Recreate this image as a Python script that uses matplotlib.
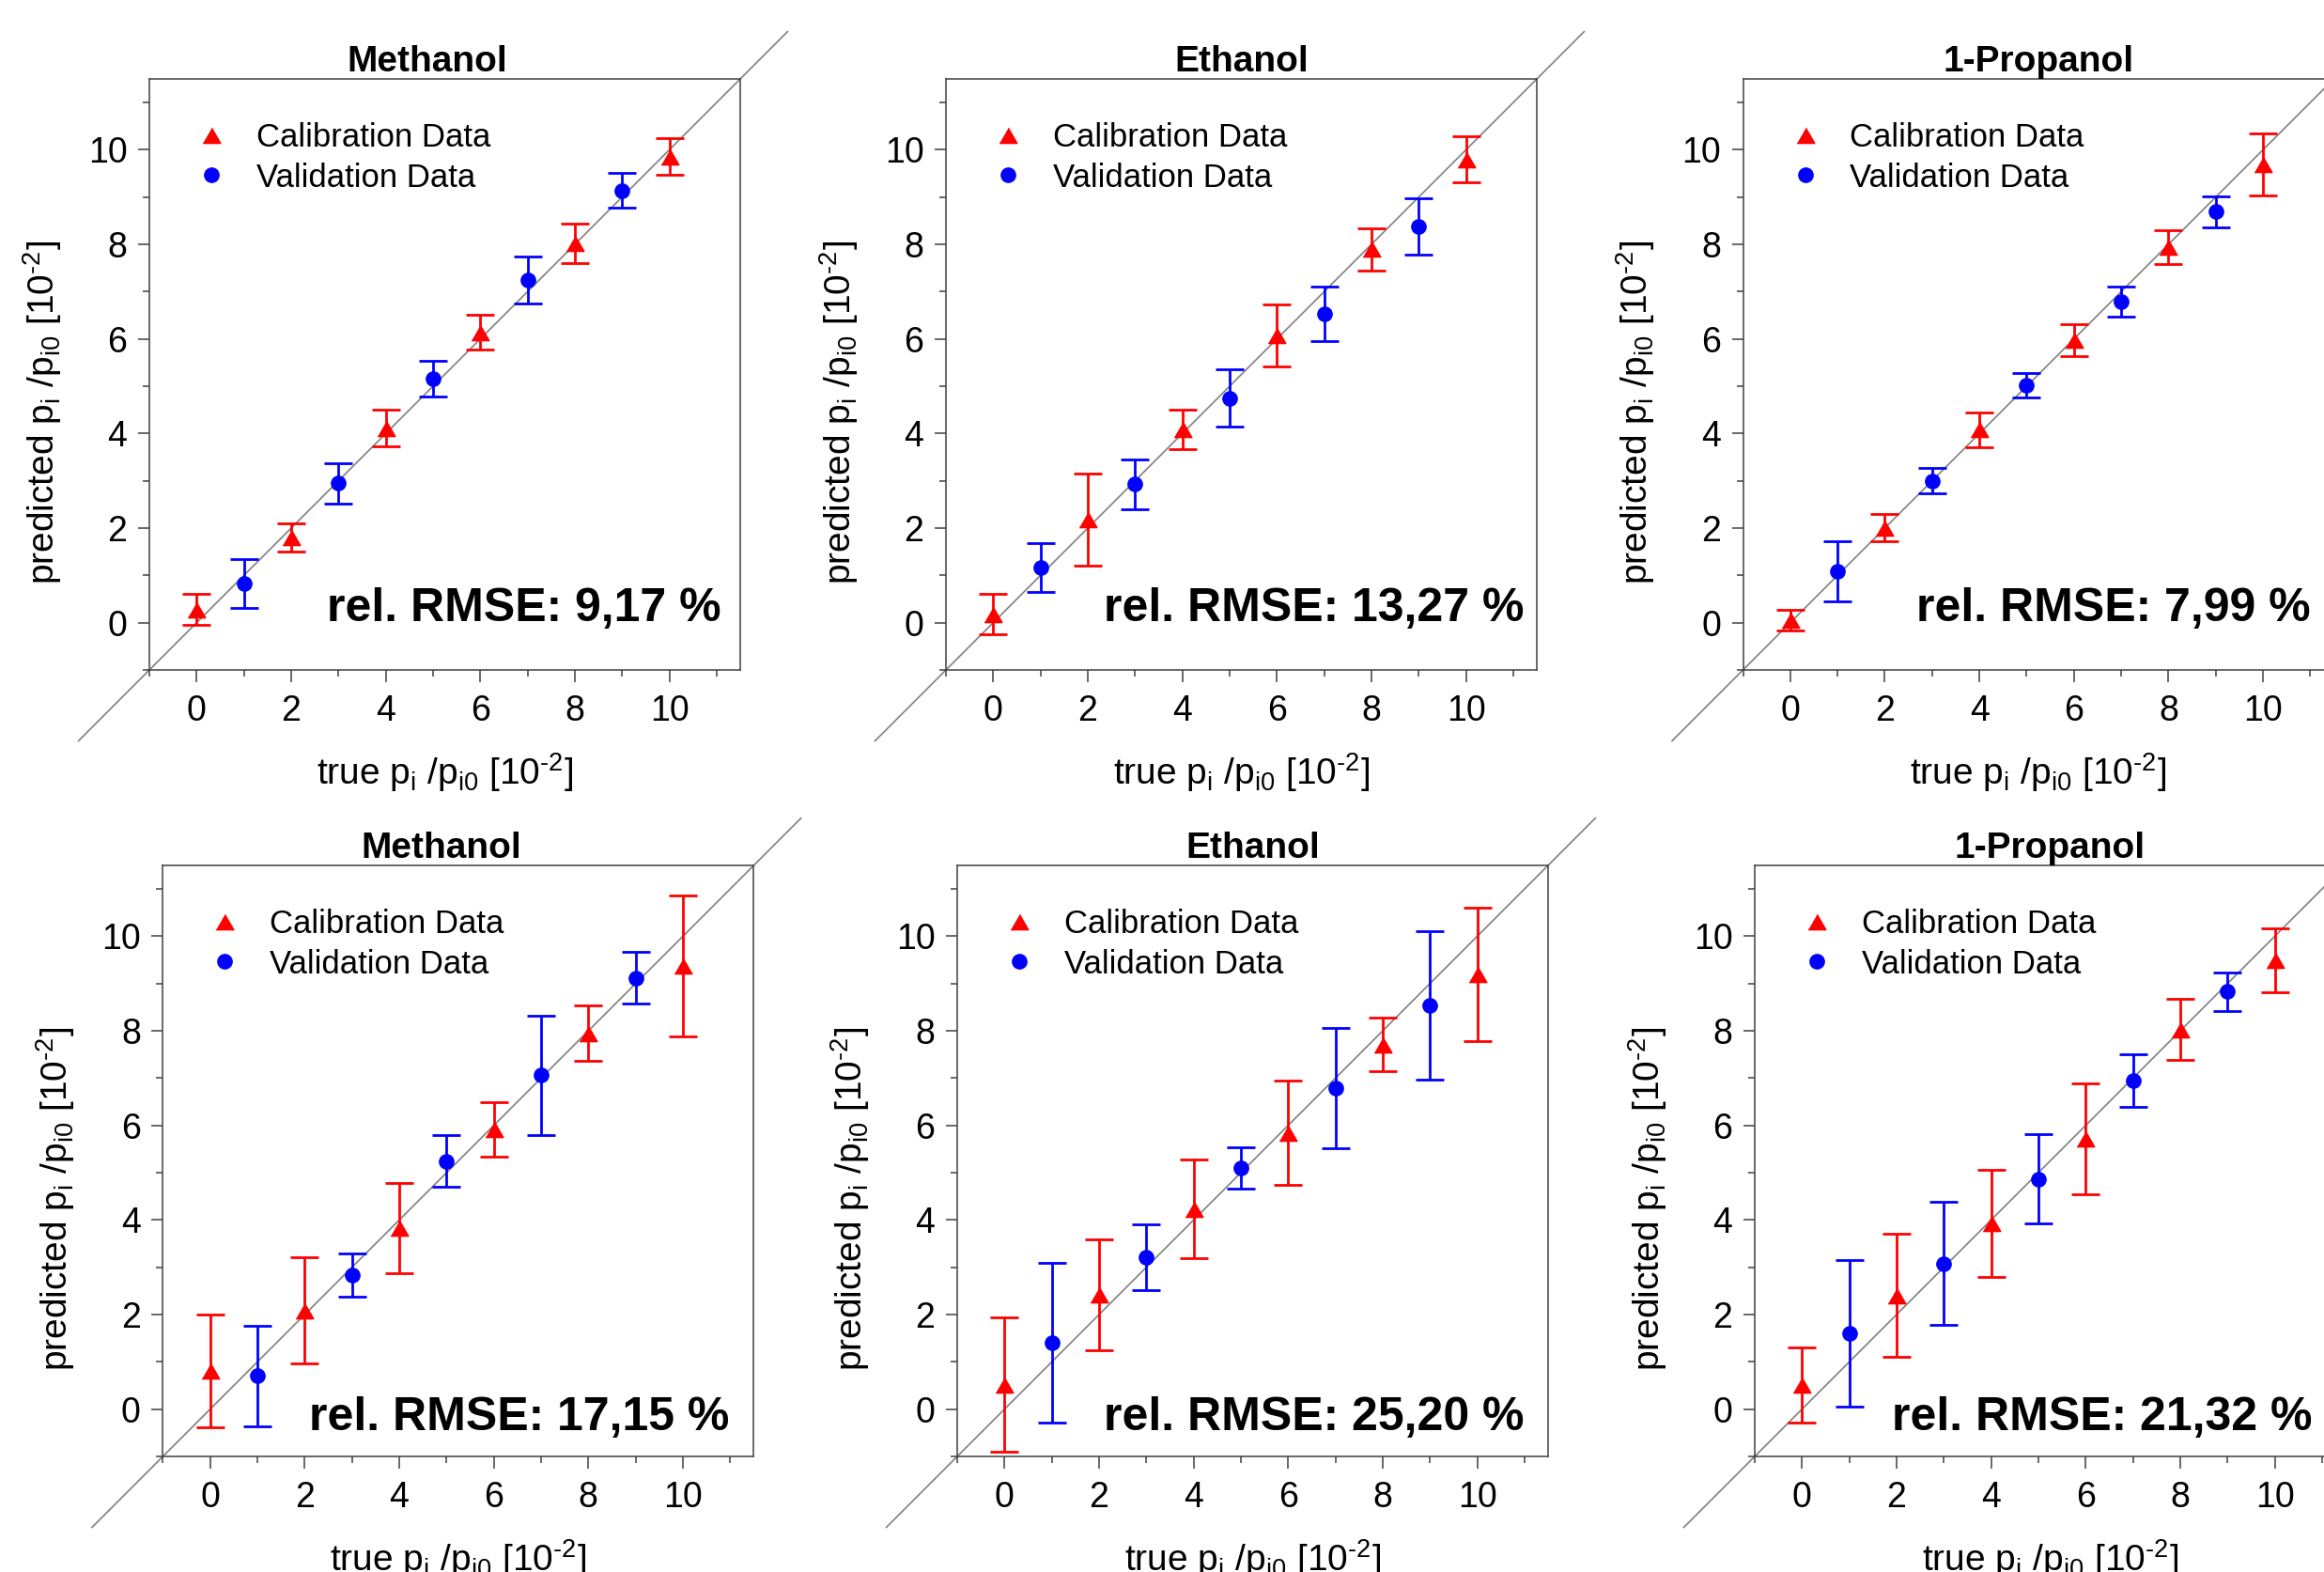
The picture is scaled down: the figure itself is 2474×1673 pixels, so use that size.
import numpy as np
import matplotlib
matplotlib.use("Agg")
from matplotlib import pyplot as plt
from matplotlib.ticker import MultipleLocator

plt.rcParams['font.family'] = ['Liberation Sans', 'DejaVu Sans']
plt.rcParams['mathtext.fontset'] = 'custom'
plt.rcParams['mathtext.rm'] = 'Liberation Sans'
plt.rcParams['mathtext.it'] = 'Liberation Sans:italic'
plt.rcParams['mathtext.bf'] = 'Liberation Sans:bold'

# =========== DONNEES ===========

x_calib = [0, 2, 4, 6, 8, 10]
x_valid = [1, 3, 5, 7, 9]

substances = ["Methanol", "Ethanol", "1-Propanol", "Methanol", "Ethanol", "1-Propanol"]
rmse = ["9,17", "13,27", "7,99", "17,15", "25,20", "21,32"]

# ligne du haut
meth1_calib = [0.28, 1.80, 4.11, 6.14, 8.02, 9.86]
meth1_calib_err = [0.33, 0.30, 0.39, 0.37, 0.42, 0.39]
meth1_valid = [0.83, 2.95, 5.16, 7.25, 9.14]
meth1_valid_err = [0.51, 0.43, 0.38, 0.49, 0.37]

eth1_calib = [0.18, 2.18, 4.09, 6.08, 7.90, 9.80]
eth1_calib_err = [0.43, 0.97, 0.41, 0.66, 0.45, 0.48]
eth1_valid = [1.16, 2.93, 4.75, 6.53, 8.38]
eth1_valid_err = [0.52, 0.53, 0.60, 0.57, 0.60]

prop1_calib = [0.05, 2.01, 4.08, 5.97, 7.95, 9.69]
prop1_calib_err = [0.22, 0.29, 0.37, 0.34, 0.36, 0.66]
prop1_valid = [1.09, 3.00, 5.02, 6.79, 8.69]
prop1_valid_err = [0.63, 0.27, 0.26, 0.31, 0.32]

# ligne du bas
meth2_calib = [0.81, 2.09, 3.83, 5.92, 7.95, 9.38]
meth2_calib_err = [1.20, 1.12, 0.96, 0.58, 0.58, 1.49]
meth2_valid = [0.70, 2.83, 5.25, 7.06, 9.12]
meth2_valid_err = [1.07, 0.46, 0.54, 1.26, 0.55]

eth2_calib = [0.52, 2.42, 4.23, 5.84, 7.71, 9.20]
eth2_calib_err = [1.43, 1.17, 1.04, 1.10, 0.57, 1.41]
eth2_valid = [1.41, 3.21, 5.10, 6.79, 8.53]
eth2_valid_err = [1.69, 0.69, 0.43, 1.27, 1.57]

prop2_calib = [0.51, 2.40, 3.93, 5.71, 8.03, 9.49]
prop2_calib_err = [0.80, 1.30, 1.13, 1.17, 0.64, 0.68]
prop2_valid = [1.60, 3.08, 4.87, 6.95, 8.83]
prop2_valid_err = [1.55, 1.30, 0.94, 0.55, 0.41]

calib = [meth1_calib, eth1_calib, prop1_calib, meth2_calib, eth2_calib, prop2_calib]
calib_err = [meth1_calib_err, eth1_calib_err, prop1_calib_err,
             meth2_calib_err, eth2_calib_err, prop2_calib_err]
valid = [meth1_valid, eth1_valid, prop1_valid, meth2_valid, eth2_valid, prop2_valid]
valid_err = [meth1_valid_err, eth1_valid_err, prop1_valid_err,
             meth2_valid_err, eth2_valid_err, prop2_valid_err]

# =========== MISE EN PAGE ===========

W, H = 2474, 1673
# (gauche, haut) des axes en pixels
corners = [(159, 84), (1007, 84), (1855.5, 84),
           (173.4, 921), (1019, 921), (1868, 921)]
size = 629
title_x = [0.47, 0.5, 0.5, 0.471, 0.5, 0.5]
rmse_x = [0.968, 0.978, 0.96, 0.958, 0.959, 0.944]
rmse_y = [0.083, 0.083, 0.083, 0.045, 0.045, 0.045]

triangle = [(-1, -0.866), (1, -0.866), (0, 0.866)]
axis_col = '#404040'

# trait d'union plutot que le signe moins dans l'exposant
xlabel = "true p$_{\\mathregular{i}}$ /p$_{\\mathregular{i0}}$ [10$^{\\mathregular{\u20102}}$]"
ylabel = "predicted p$_{\\mathregular{i}}$ /p$_{\\mathregular{i0}}$ [10$^{\\mathregular{\u20102}}$]"

fig = plt.figure(figsize=(W / 100, H / 100), dpi=100)

for k in range(6):
    left, top = corners[k]
    ax = fig.add_axes([left / W, 1 - (top + size) / H, size / W, size / H])

    ax.plot([-2.5, 12.5], [-2.5, 12.5], color='#808080', lw=1.2, clip_on=False, zorder=1)

    ax.errorbar(x_calib, calib[k], yerr=calib_err[k], fmt='none', ecolor='#ff0000',
                elinewidth=2.0, capsize=11, capthick=2.0, zorder=2)
    ax.plot(x_calib, calib[k], linestyle='none', marker=triangle, ms=13.5,
            color='#ff0000', mec='#ff0000', zorder=3, label="Calibration Data")
    ax.errorbar(x_valid, valid[k], yerr=valid_err[k], fmt='none', ecolor='#0000ff',
                elinewidth=2.0, capsize=11, capthick=2.0, zorder=2)
    ax.plot(x_valid, valid[k], linestyle='none', marker='o', ms=11,
            color='#0000ff', mec='#0000ff', zorder=3, label="Validation Data")

    ax.set_xlim(-1, 11.5)
    ax.set_ylim(-1, 11.5)
    for a in (ax.xaxis, ax.yaxis):
        a.set_major_locator(MultipleLocator(2))
        a.set_minor_locator(MultipleLocator(1))

    for s in ax.spines.values():
        s.set_color(axis_col)
        s.set_linewidth(1.1)
    ax.tick_params(which='both', direction='out', color=axis_col, width=1.1,
                   top=False, right=False, labelsize=27)
    ax.tick_params(which='major', length=9)
    ax.tick_params(which='minor', length=5)
    ax.tick_params(axis='x', pad=10)
    ax.tick_params(axis='y', pad=8)

    ax.set_title(substances[k], fontsize=28, fontweight='bold', pad=6, x=title_x[k])
    ax.set_xlabel(xlabel, fontsize=28)
    ax.set_ylabel(ylabel, fontsize=28)
    ax.xaxis.set_label_coords(0.5, -0.137)
    ax.yaxis.set_label_coords(-0.145, 0.435)

    ax.legend(loc='upper left', bbox_to_anchor=(0.0774, 0.927), frameon=False, fontsize=25,
              numpoints=1, borderpad=0, borderaxespad=0, handlelength=1.0,
              handletextpad=0.88, labelspacing=0.28)

    ax.text(rmse_x[k], rmse_y[k], "rel. RMSE: " + rmse[k] + " %", transform=ax.transAxes,
            ha='right', va='baseline', fontsize=36, fontweight='bold')

plt.savefig("out.png", dpi=100)
